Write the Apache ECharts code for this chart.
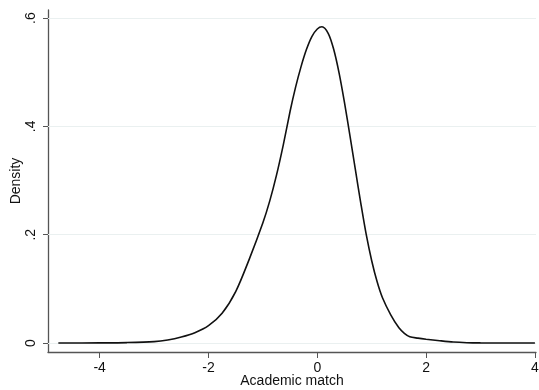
<!DOCTYPE html>
<html>
<head>
<meta charset="utf-8">
<script src="https://cdn.jsdelivr.net/npm/echarts@6/dist/echarts.min.js"></script>
<style>html,body{margin:0;padding:0;background:#fff}#c{width:539px;height:390px}</style>
</head>
<body>
<div id="c"></div>
<script>
// Kernel density estimate of "Academic match"
const xs = [-4.76, -4.0, -3.5, -3.0, -2.75, -2.5, -2.25, -2.0, -1.75, -1.5, -1.25, -1.0, -0.875, -0.75, -0.625, -0.5, -0.4, -0.3, -0.2, -0.1, 0.0, 0.086, 0.2, 0.3, 0.4, 0.5, 0.6, 0.7, 0.8, 0.9, 1.0, 1.1, 1.2, 1.35, 1.5, 1.6, 1.7, 1.85, 2.0, 2.25, 2.5, 2.75, 3.0, 3.5, 4.0];
const ys = [0.0, 0.0003, 0.0008, 0.0025, 0.0055, 0.011, 0.019, 0.032, 0.055, 0.095, 0.155, 0.222, 0.262, 0.31, 0.366, 0.428, 0.472, 0.51, 0.542, 0.566, 0.58, 0.584, 0.572, 0.543, 0.499, 0.444, 0.383, 0.32, 0.258, 0.2, 0.152, 0.113, 0.083, 0.052, 0.028, 0.018, 0.0116, 0.009, 0.007, 0.0042, 0.0018, 0.0006, 0.0002, 0.0001, 0.0];
const xTicks = [-4, -2, 0, 2, 4];
const yTicks = [0, 0.2, 0.4, 0.6];
const xTitle = 'Academic match';
const yTitle = 'Density';

const data = xs.map((x, i) => [x, ys[i]]);
const fmtY = v => (v === 0 ? '0' : String(v).replace(/^0\./, '.'));
const font = 'Liberation Sans, Arial, sans-serif';

const chart = echarts.init(document.getElementById('c'), null, {renderer: 'canvas'});
chart.setOption({
  animation: false,
  backgroundColor: '#fff',
  grid: {left: 48, right: 3, top: 10, bottom: 38, containLabel: false, outerBoundsMode: 'none'},
  graphic: [
    {type: 'text', x: 292, y: 381, style: {text: xTitle, fill: '#111', fontSize: 14, fontFamily: font, align: 'center', verticalAlign: 'middle'}},
    {type: 'text', x: 16, y: 181, rotation: Math.PI / 2, style: {text: yTitle, fill: '#111', fontSize: 14, fontFamily: font, align: 'center', verticalAlign: 'middle'}}
  ],
  xAxis: {
    type: 'value', min: -4.95, max: 4.02,
    axisLine: {show: true, onZero: false, lineStyle: {color: '#555', width: 1.3}},
    axisTick: {show: true, length: 6, customValues: xTicks, lineStyle: {color: '#555'}},
    axisLabel: {customValues: xTicks, margin: 9, color: '#111', fontSize: 14, fontFamily: font},
    splitLine: {show: false}
  },
  yAxis: {
    type: 'value', min: -0.0166, max: 0.615,
    axisLine: {show: true, onZero: false, lineStyle: {color: '#555', width: 1.3}},
    axisTick: {show: true, length: 5, customValues: yTicks, lineStyle: {color: '#555'}},
    axisLabel: {customValues: yTicks, rotate: 90, margin: 10, color: '#111', fontSize: 14, fontFamily: font, formatter: fmtY},
    splitLine: {show: false}
  },
  series: [{
    type: 'line', data: [], symbol: 'none', z: 1,
    markLine: {
      silent: true, symbol: 'none', label: {show: false}, z: 1,
      lineStyle: {color: '#eaf0f0', width: 1, type: 'solid'},
      data: yTicks.map(v => ({yAxis: v}))
    }
  }, {
    type: 'line', data: data, smooth: 0.3, showSymbol: false, symbol: 'none',
    lineStyle: {color: '#111', width: 1.6},
    z: 10
  }]
});
</script>
</body>
</html>
